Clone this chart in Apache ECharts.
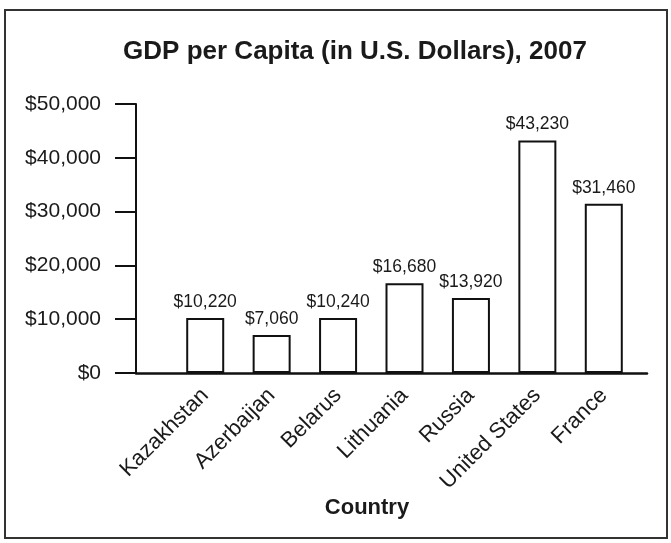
<!DOCTYPE html>
<html>
<head>
<meta charset="utf-8">
<script src="https://cdn.jsdelivr.net/npm/echarts@6/dist/echarts.min.js"></script>
<style>
html,body{margin:0;padding:0;background:#fff;}
#chart{width:671px;height:543px;}
</style>
</head>
<body>
<div id="chart"></div>
<script>
const titleText = 'GDP per Capita (in U.S. Dollars), 2007';
const xAxisTitle = 'Country';
const countries = ['Kazakhstan', 'Azerbaijan', 'Belarus', 'Lithuania', 'Russia', 'United States', 'France'];
const gdpPerCapita = [10220, 7060, 10240, 16680, 13920, 43230, 31460];
const yTicks = [0, 10000, 20000, 30000, 40000, 50000];

const FONT = "'Liberation Sans', Arial, sans-serif";
const fmt = v => '$' + v.toLocaleString('en-US');

const chart = echarts.init(document.getElementById('chart'), null, {renderer: 'canvas'});
chart.setOption({
  backgroundColor: '#fff',
  animation: false,
  title: [
    {text: titleText, left: 350, top: 34, textAlign: 'center',
     textStyle: {fontFamily: FONT, fontWeight: 'bold', fontSize: 26, color: '#1a1a1a'}},
    {text: xAxisTitle, left: 362, top: 492, textAlign: 'center',
     textStyle: {fontFamily: FONT, fontWeight: 'bold', fontSize: 22, color: '#1a1a1a'}}
  ],
  graphic: [{
    type: 'rect', shape: {x: 5, y: 10, width: 662, height: 528},
    style: {fill: 'none', stroke: '#333', lineWidth: 2}, silent: true
  }],
  grid: [
    {left: 136, right: 24, top: 104, bottom: 170},
    {left: 172, right: 34, top: 104, bottom: 170}
  ],
  xAxis: [
    {type: 'category', gridIndex: 0, data: [''],
     axisLine: {show: true, lineStyle: {color: '#111', width: 2.5}},
     axisTick: {show: false}, axisLabel: {show: false}},
    {type: 'category', gridIndex: 1, data: countries,
     axisLine: {show: false}, axisTick: {show: false},
     axisLabel: {rotate: 45, margin: 19, interval: 0, fontFamily: FONT, fontSize: 22, color: '#1a1a1a'}}
  ],
  yAxis: [
    {type: 'value', gridIndex: 0, min: 0, max: 50000, interval: 10000,
     axisLine: {show: true, lineStyle: {color: '#111', width: 2}},
     axisTick: {show: true, inside: false, length: 21, lineStyle: {color: '#111', width: 2}},
     splitLine: {show: false},
     axisLabel: {margin: 35, fontFamily: FONT, fontSize: 21, color: '#1a1a1a',
       formatter: v => yTicks.includes(v) ? fmt(v) : ''}},
    {type: 'value', gridIndex: 1, min: 0, max: 50000, interval: 10000, show: false}
  ],
  series: [{
    type: 'bar', xAxisIndex: 1, yAxisIndex: 1,
    data: gdpPerCapita, barWidth: 38,
    itemStyle: {color: '#fff', borderColor: '#111', borderWidth: 2},
    label: {show: true, position: 'top', distance: 7, fontFamily: FONT, fontSize: 17.5, color: '#1a1a1a',
      formatter: p => fmt(p.value)}
  }]
});
</script>
</body>
</html>
